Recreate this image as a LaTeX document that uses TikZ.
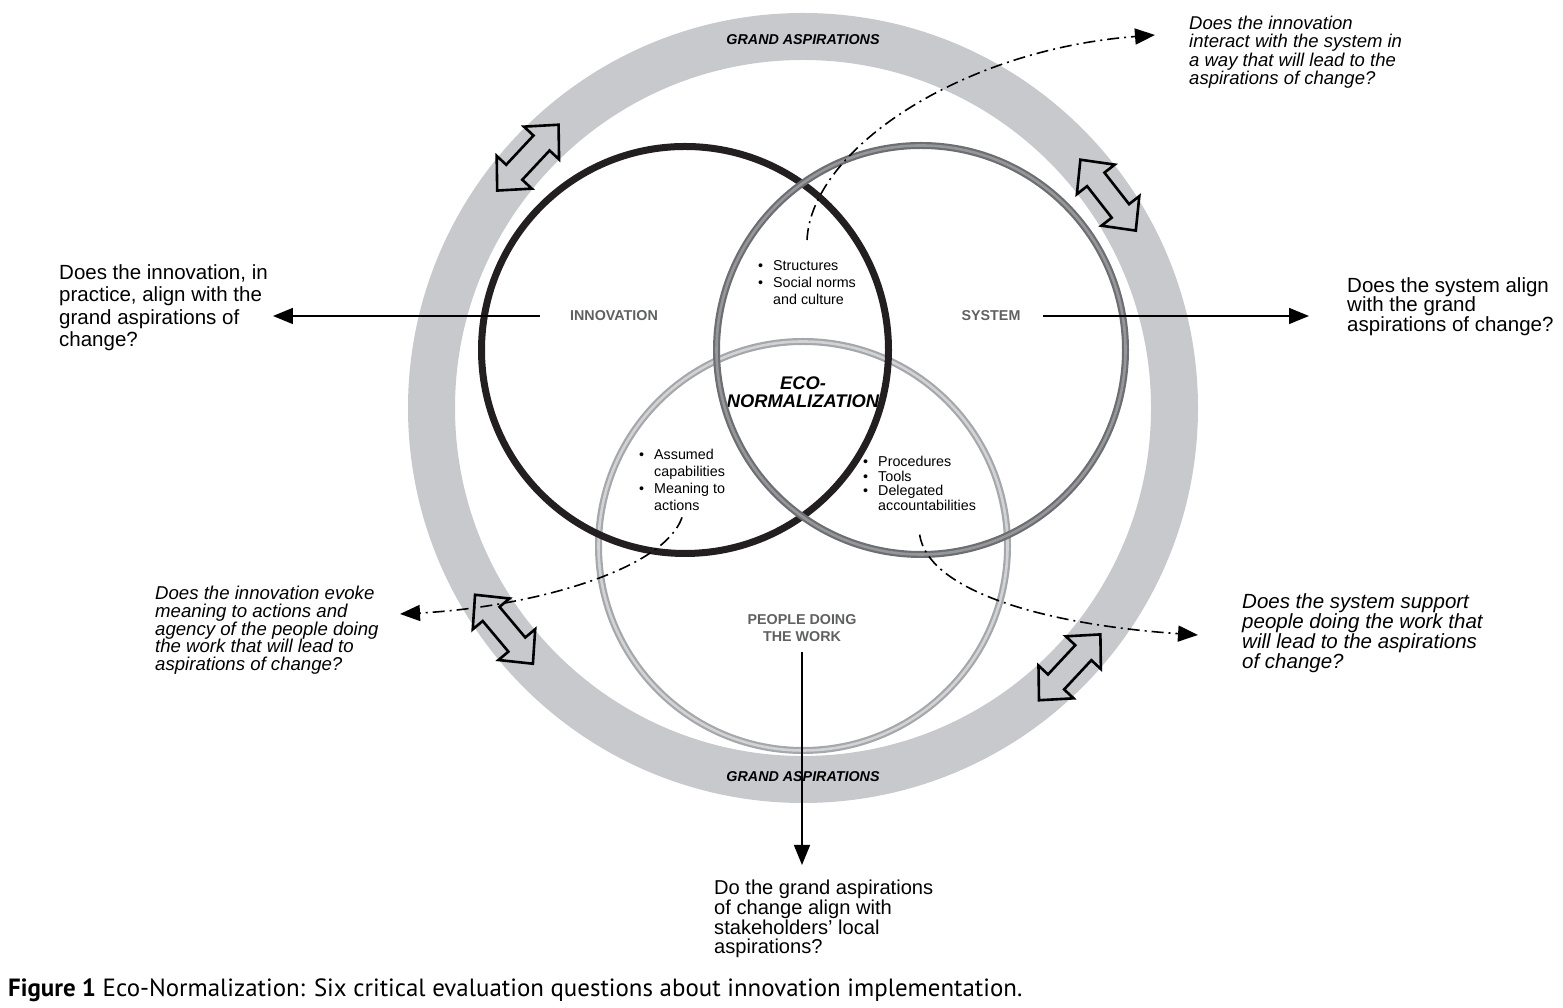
\documentclass[tikz,border=0pt]{standalone}
\usepackage{fontspec}
\setmainfont{Liberation Sans}
\newfontfamily\capfont{PT Sans}
\usepackage{tikz}
\usetikzlibrary{arrows.meta,positioning,calc}

\definecolor{ringgray}{RGB}{200,201,204}
\definecolor{innovink}{RGB}{35,31,32}
\definecolor{sysgray}{RGB}{109,110,113}
\definecolor{syslight}{RGB}{150,151,154}
\definecolor{peoplegray}{RGB}{165,167,170}
\definecolor{peoplelight}{RGB}{210,211,213}
\definecolor{labelgray}{RGB}{95,96,98}

\tikzset{
  dblarrow/.pic={
    \draw[line width=2.6pt, fill=ringgray, line join=miter]
      (45,0) -- (20,24) -- (20,11) -- (-20,11) -- (-20,24) -- (-45,0)
      -- (-20,-24) -- (-20,-11) -- (20,-11) -- (20,-24) -- cycle;
  }
}

\begin{document}
\begin{tikzpicture}[x=1pt,y=1pt,
    circlabel/.style={font=\fontsize{14.3}{17}\selectfont\bfseries, text=labelgray, align=center, inner sep=0pt},
    grand/.style={font=\fontsize{14.3}{17}\selectfont\bfseries\itshape, inner sep=0pt},
    question/.style={align=left, anchor=north west, inner sep=0pt},
    bullets/.style={anchor=north west, inner sep=0pt, font=\fontsize{14.3}{17}\selectfont},
    qarrow/.style={line width=1.5pt, -{Triangle[length=20pt,width=16pt]}},
    dotarrow/.style={line width=1.6pt, dash pattern=on 12pt off 5pt on 2pt off 5pt, -{Triangle[length=20pt,width=16pt]}}]
    \useasboundingbox (0,0) rectangle (1563,1008);

    % grand aspirations ring
    \coordinate (ring) at (803,600);
    \draw[ringgray, line width=47pt] (ring) circle (371.5);
    \node[grand] (grandtop) at (803,968) {GRAND ASPIRATIONS};
    \node[grand] (grandbot) at (803,231) {GRAND ASPIRATIONS};

    % the three circles
    \node[font=\fontsize{18.3}{18}\selectfont\bfseries\itshape, align=center, inner sep=0pt] (eco) at (803,616) {ECO-\\NORMALIZATION};
    \draw[peoplegray, double=peoplelight, double distance=2.6pt, line width=2.2pt] (803,462) circle (204.5);
    \draw[innovink, line width=7pt] (685,658) circle (203.5);
    \draw[sysgray, double=syslight, double distance=2.6pt, line width=2.2pt] (921,658) circle (204.5);

    \node[circlabel] (innov) at (614,692) {INNOVATION};
    \node[circlabel] (system) at (991,692) {SYSTEM};
    \node[circlabel] (people) at (802,380) {PEOPLE DOING\\THE WORK};

    \node[bullets] (list1) at (758,750) {\begin{tabular}{@{}l@{\hspace{10pt}}l@{}}\textbullet & Structures\\ \textbullet & Social norms\\ & and culture\end{tabular}};
    \node[bullets] (list2) at (639,561) {\begin{tabular}{@{}l@{\hspace{10pt}}l@{}}\textbullet & Assumed\\ & capabilities\\ \textbullet & Meaning to\\ & actions\end{tabular}};
    \node[bullets, font=\fontsize{14.3}{14}\selectfont] (list3) at (863,552) {\begin{tabular}{@{}l@{\hspace{10pt}}l@{}}\textbullet & Procedures\\ \textbullet & Tools\\ \textbullet & Delegated\\ & accountabilities\end{tabular}};

    % double arrows on the ring
    \foreach \ang/\rot in {137.7/47, 34.9/128, 216.5/130, -44.2/47}
        \pic[rotate=\rot] at ($(ring)+(\ang:372)$) {dblarrow};

    % questions
    \node[question, font=\fontsize{20.5}{22.5}\selectfont] (qinnov) at (59,744) {Does the innovation, in\\practice, align with the\\grand aspirations of\\change?};
    \node[question, font=\fontsize{20.5}{19.5}\selectfont] (qsystem) at (1347,731) {Does the system align\\with the grand\\aspirations of change?};
    \node[question, font=\fontsize{20.1}{19.7}\selectfont] (qpeople) at (714,128) {Do the grand aspirations\\of change align with\\stakeholders' local\\aspirations?};
    \node[question, font=\fontsize{18.5}{18.3}\selectfont\itshape] (qinteract) at (1189,992) {Does the innovation\\interact with the system in\\a way that will lead to the\\aspirations of change?};
    \node[question, font=\fontsize{18.6}{17.7}\selectfont\itshape] (qmeaning) at (155,422) {Does the innovation evoke\\meaning to actions and\\agency of the people doing\\the work that will lead to\\aspirations of change?};
    \node[question, font=\fontsize{20.5}{20}\selectfont\itshape] (qsupport) at (1242,415) {Does the system support\\people doing the work that\\will lead to the aspirations\\of change?};

    \draw[qarrow] ([xshift=-30pt]innov.west) -- ([xshift=5pt]qinnov.east |- innov.west);
    \draw[qarrow] ([xshift=22pt]system.east) -- ([xshift=-38pt]qsystem.west |- system.east);
    \draw[qarrow] ([yshift=-10pt]people.south) -- ([yshift=15pt]people.south |- qpeople.north);

    \coordinate (tipinteract) at (1155,973);
    \coordinate (tipmeaning) at (400,394);
    \coordinate (tipsupport) at (1198,373);
    \draw[dotarrow] ([yshift=18pt]list1.north) .. controls +(4,90) and +(-195,-15) .. (tipinteract);
    \draw[dotarrow] ([yshift=-2pt]list2.south) .. controls +(-20,-56) and +(120,6) .. (tipmeaning);
    \draw[dotarrow] ([yshift=-20pt]list3.south) .. controls +(9,-58) and +(-148,10) .. (tipsupport);

    \node[anchor=base west, inner sep=0pt, font=\capfont\fontsize{24.9}{30}\selectfont] (caption) at (8,11) {\textbf{Figure 1} Eco-Normalization: Six critical evaluation questions about innovation implementation.};
\end{tikzpicture}
\end{document}
